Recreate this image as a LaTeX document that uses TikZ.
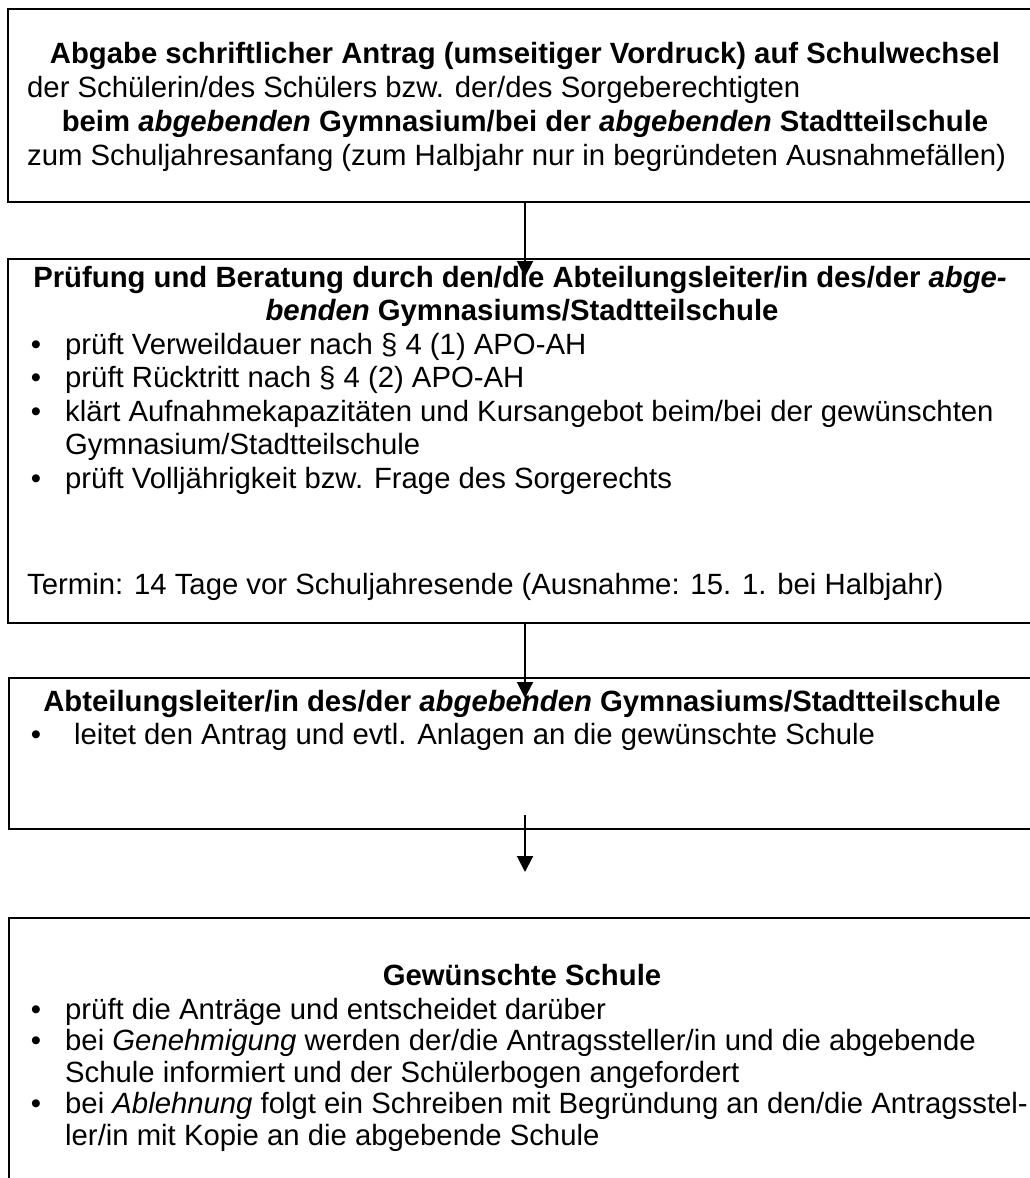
\documentclass[tikz,border=0pt]{standalone}
\usepackage{fontspec}
\setmainfont{Liberation Sans}
\usetikzlibrary{arrows.meta}
\begin{document}
\begin{tikzpicture}[x=1pt,y=-1pt,
  box/.style={draw, line width=2pt, anchor=north west, inner sep=0pt, minimum width=1040pt},
  txt/.style={inner sep=0pt, font=\fontsize{29.3}{34}\selectfont},
  ttl/.style={inner sep=0pt, font=\fontsize{29.3}{34}\selectfont\bfseries},
  bul/.style={inner sep=0pt, font=\fontsize{29.3}{34}\selectfont},
  arr/.style={line width=2pt, -{Triangle[width=16pt,length=16pt]}}]
\useasboundingbox (0,0) rectangle (1030,1178);
\clip (0,0) rectangle (1030,1178);
\fill[white] (0,0) rectangle (1030,1178);
% boxes
\node[box, minimum height=193pt] (b1) at (7,8) {};
\node[box, minimum height=364pt] (b2) at (7,258) {};
\node[box, minimum height=151pt] (b3) at (8,677) {};
\node[box, minimum height=300pt] (b4) at (8,917) {};
% box 1 text
\node[ttl, anchor=base] (t11) at (525,63) {Abgabe schriftlicher Antrag (umseitiger Vordruck) auf Schulwechsel};
\node[txt, anchor=base west] (t12) at (27,97) {der Schülerin/des Schülers bzw. der/des Sorgeberechtigten};
\node[ttl, anchor=base] (t13) at (525,131) {beim \textit{abgebenden} Gymnasium/bei der \textit{abgebenden} Stadtteilschule};
\node[txt, anchor=base west] (t14) at (27,165) {zum Schuljahresanfang (zum Halbjahr nur in begründeten Ausnahmefällen)};
% box 2 text
\node[ttl, anchor=base] (t21) at (520,287) {Prüfung und Beratung durch den/die Abteilungsleiter/in des/der \textit{abge-}};
\node[ttl, anchor=base] (t22) at (522,320) {\textit{benden} Gymnasiums/Stadtteilschule};
\node[bul, anchor=base] (d21) at (36,354) {•};
\node[txt, anchor=base west] (t23) at (65,354) {prüft Verweildauer nach § 4 (1) APO-AH};
\node[bul, anchor=base] (d22) at (36,387.5) {•};
\node[txt, anchor=base west] (t24) at (65,387.5) {prüft Rücktritt nach § 4 (2) APO-AH};
\node[bul, anchor=base] (d23) at (36,421) {•};
\node[txt, anchor=base west] (t25) at (65,421) {klärt Aufnahmekapazitäten und Kursangebot beim/bei der gewünschten};
\node[txt, anchor=base west] (t26) at (65,454.5) {Gymnasium/Stadtteilschule};
\node[bul, anchor=base] (d24) at (36,488) {•};
\node[txt, anchor=base west] (t27) at (65,488) {prüft Volljährigkeit bzw. Frage des Sorgerechts};
\node[txt, anchor=base west] (t28) at (27,594) {Termin: 14 Tage vor Schuljahresende (Ausnahme: 15. 1. bei Halbjahr)};
% box 3 text
\node[ttl, anchor=base] (t31) at (522,711) {Abteilungsleiter/in des/der \textit{abgebenden} Gymnasiums/Stadtteilschule};
\node[bul, anchor=base] (d31) at (36,744) {•};
\node[txt, anchor=base west] (t32) at (74,744) {leitet den Antrag und evtl. Anlagen an die gewünschte Schule};
% box 4 text
\node[ttl, anchor=base] (t41) at (522,985) {Gewünschte Schule};
\node[bul, anchor=base] (d41) at (36,1019) {•};
\node[txt, anchor=base west] (t42) at (65,1019) {prüft die Anträge und entscheidet darüber};
\node[bul, anchor=base] (d42) at (36,1050.5) {•};
\node[txt, anchor=base west] (t43) at (65,1050.5) {bei \textit{Genehmigung} werden der/die Antragssteller/in und die abgebende};
\node[txt, anchor=base west] (t44) at (65,1082) {Schule informiert und der Schülerbogen angefordert};
\node[bul, anchor=base] (d43) at (36,1113.5) {•};
\node[txt, anchor=base west] (t45) at (65,1113.5) {bei \textit{Ablehnung} folgt ein Schreiben mit Begründung an den/die Antragsstel-};
\node[txt, anchor=base west] (t46) at (65,1145) {ler/in mit Kopie an die abgebende Schule};
% arrows
\coordinate (a1s) at (525,201);
\coordinate (a1e) at (525,277);
\coordinate (a2s) at (525,622);
\coordinate (a2e) at (525,698);
\coordinate (a3s) at (525,815);
\coordinate (a3e) at (525,872);
\draw[arr] (a1s) -- (a1e);
\draw[arr] (a2s) -- (a2e);
\draw[arr] (a3s) -- (a3e);
\end{tikzpicture}
\end{document}
